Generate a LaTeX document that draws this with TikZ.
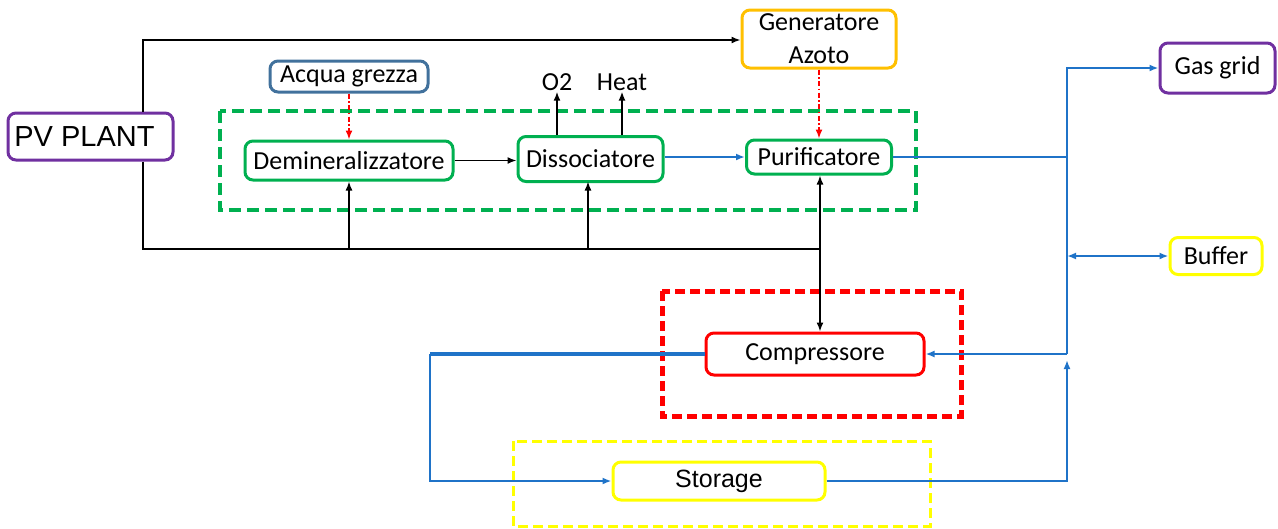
\documentclass[tikz,border=0pt]{standalone}
\usepackage{fontspec}
\setmainfont{Carlito}
\newfontfamily\arialfont{Liberation Sans}
\usepackage{xcolor}
\usepackage{tikz}
\usetikzlibrary{arrows.meta}
\definecolor{ngreen}{HTML}{00B050}
\definecolor{nblue}{HTML}{1F73C8}
\definecolor{nsteel}{HTML}{41719C}
\definecolor{npurple}{HTML}{7030A0}
\definecolor{norange}{HTML}{FFC000}
\definecolor{nyellow}{HTML}{FFFF00}
\definecolor{nred}{HTML}{FF0000}
\tikzset{
    boxnode/.style = {align=center, inner sep=0pt, text centered, rounded corners=8pt, line width=3pt, fill=white, font=\fontsize{26}{33}\selectfont},
    green_node/.style = {boxnode, draw=ngreen},
    steel_node/.style = {boxnode, draw=nsteel},
    purple_node/.style = {boxnode, draw=npurple},
    orange_node/.style = {boxnode, draw=norange},
    yellow_node/.style = {boxnode, draw=nyellow},
    red_node/.style = {boxnode, draw=nred},
    green_group/.style = {draw=ngreen, line width=4pt, dash pattern=on 12pt off 6pt},
    red_group/.style = {draw=nred, line width=5pt, dash pattern=on 10pt off 5pt},
    yellow_group/.style = {draw=nyellow, line width=3pt, dash pattern=on 10pt off 5pt},
    black_line/.style = {draw=black, line width=1.5pt},
    blue_line/.style = {draw=nblue, line width=2pt},
    blue_thick/.style = {draw=nblue, line width=3.5pt},
    feed_line/.style = {draw=nred, line width=1.5pt, dash pattern=on 5pt off 2.5pt on 1.5pt off 2.5pt}
}

\begin{document}
\begin{tikzpicture}
            [x=1pt, y=-1pt, >={Latex[length=9pt, width=7pt]}]
            \useasboundingbox (0,0) rectangle (1278,528);

            % dashed groups
            \draw[green_group] (220,111) rectangle (916,210);
            \draw[red_group] (662,291) rectangle (961,416);
            \draw[yellow_group] (513,441) rectangle (930,526);

            % units
            \node[purple_node, minimum width=165pt, minimum height=47pt, font=\arialfont\fontsize{29}{32}\selectfont] (pv) at (90.5,136.5) {PV PLANT\hspace{12pt}};
            \node[steel_node, minimum width=158pt, minimum height=31pt] (acqua) at (349,76.5) {Acqua grezza};
            \node[green_node, minimum width=208pt, minimum height=39pt] (demin) at (349,160.5) {Demineralizzatore};
            \node[green_node, minimum width=145pt, minimum height=45pt] (dissoc) at (590.5,159) {Dissociatore};
            \node[green_node, minimum width=145pt, minimum height=34pt] (purif) at (819,157) {Purificatore};
            \node[orange_node, minimum width=154pt, minimum height=58pt] (gen) at (819,39) {Generatore\\Azoto};
            \node[purple_node, minimum width=115pt, minimum height=50pt] (gas) at (1217.5,68) {Gas grid};
            \node[yellow_node, minimum width=92pt, minimum height=37pt] (buffer) at (1216,256) {Buffer};
            \node[red_node, minimum width=218pt, minimum height=42pt] (comp) at (815,354) {Compressore};
            \node[yellow_node, minimum width=212pt, minimum height=38pt, font=\arialfont\fontsize{25}{28}\selectfont] (storage) at (719,481) {Storage};
            \node[font=\fontsize{26}{30}\selectfont, inner sep=1pt] (o2) at (557,82) {O2};
            \node[font=\fontsize{26}{30}\selectfont, inner sep=1pt] (heat) at (622,82) {Heat};

            % power lines
            \coordinate (pvtop) at (143,40);
            \coordinate (pvbot) at (143,249);
            \coordinate (busend) at (820,249);
            \draw[black_line, ->] (pv.north -| pvtop) -- (pvtop) -- (pvtop -| gen.west);
            \draw[black_line] (pv.south -| pvbot) -- (pvbot) -- (busend);
            \draw[black_line, ->] (demin.south |- pvbot) -- (demin.south);
            \draw[black_line, ->] (588,249) -- (588,181.5);
            \draw[black_line, ->] (busend) -- (busend |- purif.south);
            \draw[black_line, ->] (busend) -- (busend |- comp.north);

            % process
            \draw[black_line, ->] (demin.east) -- (demin.east -| dissoc.west);
            \draw[black_line, ->] (dissoc.north -| o2) -- (o2.south);
            \draw[black_line, ->] (dissoc.north -| heat) -- (heat.south);
            \draw[blue_line, ->] (dissoc.east |- purif.east) -- (purif.west);
            \draw[feed_line, ->] (acqua.south) -- (demin.north);
            \draw[feed_line, ->] (gen.south) -- (purif.north);

            % gas lines
            \coordinate (jpur) at (1067,157);
            \coordinate (jgas) at (1067,68);
            \coordinate (jbuf) at (1067,256);
            \coordinate (jcomp) at (1067,354);
            \coordinate (jsto) at (1067,481);
            \coordinate (cleft) at (430,354);
            \coordinate (sleft) at (430,481);
            \draw[blue_line] (purif.east) -- (jpur);
            \draw[blue_line, ->] (jpur) -- (jgas) -- (gas.west);
            \draw[blue_line, <->] (jbuf) -- (buffer.west);
            \draw[blue_line] (jpur) -- (jcomp);
            \draw[blue_line, ->] (jcomp) -- (comp.east);
            \draw[blue_line, ->, shorten >=6pt] (storage.east) -- (jsto) -- (jcomp);
            \draw[blue_thick] (comp.west) -- (cleft);
            \draw[blue_line, ->] (cleft) -- (sleft) -- (storage.west);
\end{tikzpicture}
\end{document}
